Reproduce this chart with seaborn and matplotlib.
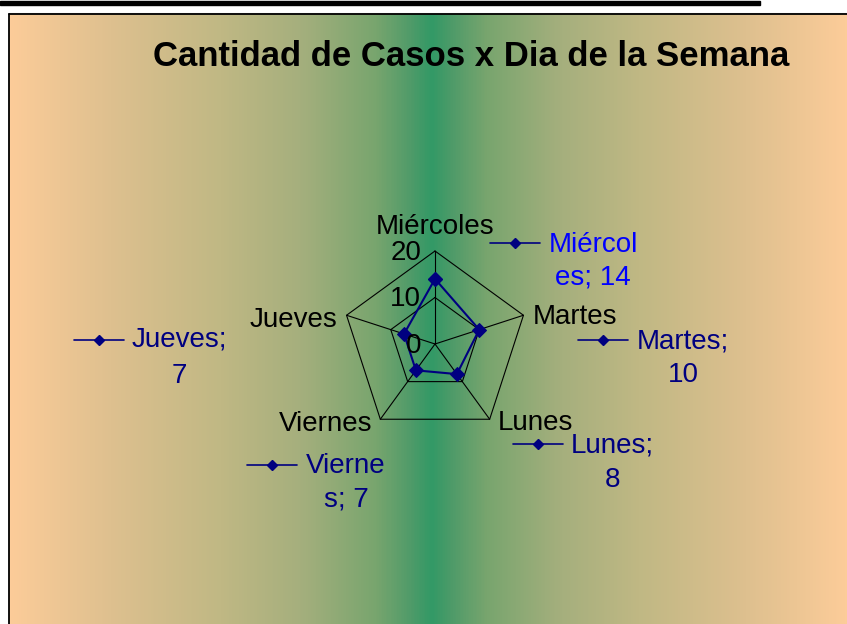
import numpy as np
import pandas as pd
import seaborn as sns
import matplotlib.pyplot as plt
from matplotlib.colors import LinearSegmentedColormap
from matplotlib.patches import Rectangle

# data (clockwise from the top, as Excel draws it)
dias = ['Miércoles', 'Martes', 'Lunes', 'Viernes', 'Jueves']
casos = [14, 10, 8, 7, 7]
anillos = [0, 10, 20]
# where Excel wrapped each data label
cortes = [7, 7, 6, 6, 7]

sns.set_style('white')
plt.rcParams['font.family'] = ['Liberation Sans', 'DejaVu Sans']

W, H = 847, 624
fig = plt.figure(figsize=(W / 100, H / 100), dpi=100)

# background axes in pixel units
bg = fig.add_axes([0, 0, 1, 1])
bg.set_xlim(0, W)
bg.set_ylim(H, 0)
bg.axis('off')

stops = [(0.0, '#339966'), (0.05, '#509b69'), (0.13, '#78a56e'), (0.31, '#a5af7d'),
         (0.5, '#c0b884'), (0.76, '#dec08f'), (1.0, '#fccc99')]
cmap = LinearSegmentedColormap.from_list('fondo', stops)
px = np.arange(9, W) + 0.5
mid = 432
d = np.where(px < mid, (mid - px) / (mid - 9), (px - mid) / (W - mid))
bg.imshow(d[None, :], cmap=cmap, aspect='auto', extent=[9, W, H, 14], vmin=0, vmax=1, zorder=0)

bg.add_patch(Rectangle((0, 1), 760, 4, color='black', zorder=1))
bg.plot([9, W], [12.5, 12.5], color='#bbbbbb', lw=0.8, zorder=1)
bg.plot([9, W], [14, 14], color='black', lw=1.3, zorder=1)
bg.plot([9, 9], [14, H], color='black', lw=1.3, zorder=1)

bg.text(471, 66, 'Cantidad de Casos x Dia de la Semana', ha='center', va='baseline',
        fontsize=25, fontweight='bold', color='black')

# radar
cx, cy, rad = 435, 344, 93
ax = fig.add_axes([(cx - rad) / W, (H - cy - rad) / H, 2 * rad / W, 2 * rad / H], projection='polar')
ax.set_theta_zero_location('N')
ax.set_theta_direction(-1)
ang = np.linspace(0, 2 * np.pi, len(dias), endpoint=False)
ax.set_ylim(anillos[0], anillos[-1])
ax.grid(False)
ax.set_xticks([])
ax.set_yticks([])
ax.spines['polar'].set_visible(False)
ax.patch.set_alpha(0)

for r in anillos[1:]:
    ax.plot(np.append(ang, ang[0]), [r] * (len(ang) + 1), color='black', lw=0.8, clip_on=False)
for a in ang:
    ax.plot([a, a], [0, anillos[-1]], color='black', lw=0.8, clip_on=False)

df = pd.DataFrame({'ang': np.append(ang, 2 * np.pi), 'casos': casos + casos[:1]})
sns.lineplot(data=df, x='ang', y='casos', sort=False, estimator=None, color='#000080',
             marker='D', markersize=7, markeredgecolor='#000080', linewidth=1.5, ax=ax, clip_on=False)
ax.set_xlabel('')
ax.set_ylabel('')

for r in anillos:
    ax.annotate(str(r), xy=(0, r), xytext=(-14, -9), textcoords='offset pixels',
                ha='right', va='baseline', fontsize=20, color='black')

cat_off = [(0, 17, 'center'), (9, -9, 'left'), (8, -11, 'left'), (-8, -12, 'right'), (-9, -12, 'right')]
for a, dia, (ox, oy, ha) in zip(ang, dias, cat_off):
    ax.annotate(dia, xy=(a, anillos[-1]), xytext=(ox, oy), textcoords='offset pixels',
                ha=ha, va='baseline', fontsize=20, color='black', annotation_clip=False)

# data labels with legend key: key left x, key y, text centre x, baselines
lab_pos = [(490, 243, 593, 252, 285), (578, 340, 683, 348, 382), (513, 444, 612, 453, 487),
           (247, 465, 346, 473, 507), (74, 340, 179, 347, 383)]
lab_col = ['#0000ff', '#000080', '#000080', '#000080', '#000080']
for dia, val, cut, (kx, ky, tx, b1, b2), col in zip(dias, casos, cortes, lab_pos, lab_col):
    full = f'{dia}; {val}'
    bg.plot([kx, kx + 25, kx + 50], [ky, ky, ky], color='#000080', lw=1.2, marker='D',
            markersize=5.5, markevery=[1], zorder=2)
    bg.text(tx, b1, full[:cut], ha='center', va='baseline', fontsize=20, color=col)
    bg.text(tx, b2, full[cut:].strip(), ha='center', va='baseline', fontsize=20, color=col)

fig.savefig('out.png', dpi=100)
